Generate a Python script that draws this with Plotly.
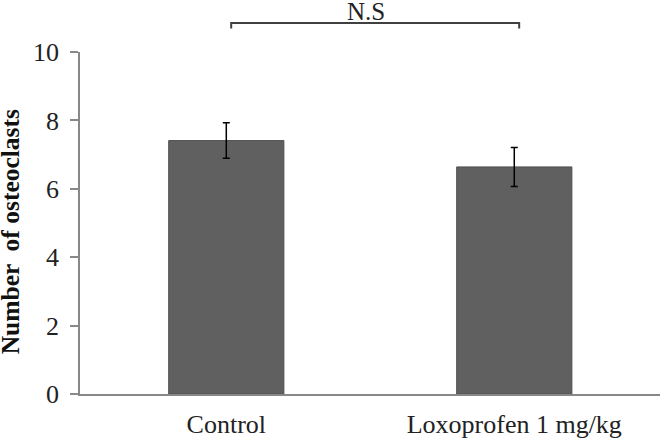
import plotly.graph_objects as go

categories = ["Control", "Loxoprofen 1 mg/kg"]
means = [7.41, 6.64]
errors = [0.52, 0.57]
y_ticks = [0, 2, 4, 6, 8, 10]
sig_label = "N.S"
y_title = "Number  of osteoclasts"

FONT = "Liberation Serif"

fig = go.Figure()
fig.add_trace(go.Bar(
    x=categories, y=means,
    width=0.4,
    marker=dict(color="#606060", line=dict(color="#505050", width=1)),
    error_y=dict(type="data", array=errors, visible=True, color="black", thickness=1.5, width=3.5),
    showlegend=False,
))

# significance bracket
fig.add_shape(type="path", xref="x", yref="paper",
              path="M 0.017 1.069 L 0.017 1.085 L 1.017 1.085 L 1.017 1.069",
              line=dict(color="#404040", width=2))
fig.add_annotation(x=0.485, xref="x", y=1.118, yref="paper", text=sig_label,
                   showarrow=False, font=dict(family=FONT, size=25, color="#222"),
                   xanchor="center", yanchor="middle")

# y-axis title as rotated annotation
fig.add_annotation(x=-0.1205, xref="paper", y=0.473, yref="paper",
                   text="<b>" + y_title + "</b>", textangle=-90, showarrow=False,
                   font=dict(family=FONT, size=25.5, color="#111"),
                   xanchor="center", yanchor="middle")

fig.update_layout(
    width=660, height=439,
    margin=dict(l=80, r=0, t=52, b=45),
    plot_bgcolor="white", paper_bgcolor="white",
    font=dict(family=FONT, size=26, color="#222"),
    bargap=0.6,
)
fig.update_xaxes(
    range=[-0.508, 1.506], showline=True, linecolor="#888", linewidth=1.5,
    ticks="", showgrid=False, zeroline=False, automargin=False,
    tickfont=dict(family=FONT, size=26, color="#222"), ticklabelstandoff=6,
)
fig.update_yaxes(
    range=[0, 10], tickvals=y_ticks, showline=True, linecolor="#888", linewidth=1.5,
    ticks="outside", ticklen=8, tickcolor="#888", tickwidth=1.5,
    showgrid=False, zeroline=False, automargin=False,
    tickfont=dict(family=FONT, size=26, color="#222"), ticklabelstandoff=6,
)

fig.write_html("out.html", config={"displayModeBar": False},
               post_script="document.body.style.margin='0';document.body.style.overflow='hidden';")
